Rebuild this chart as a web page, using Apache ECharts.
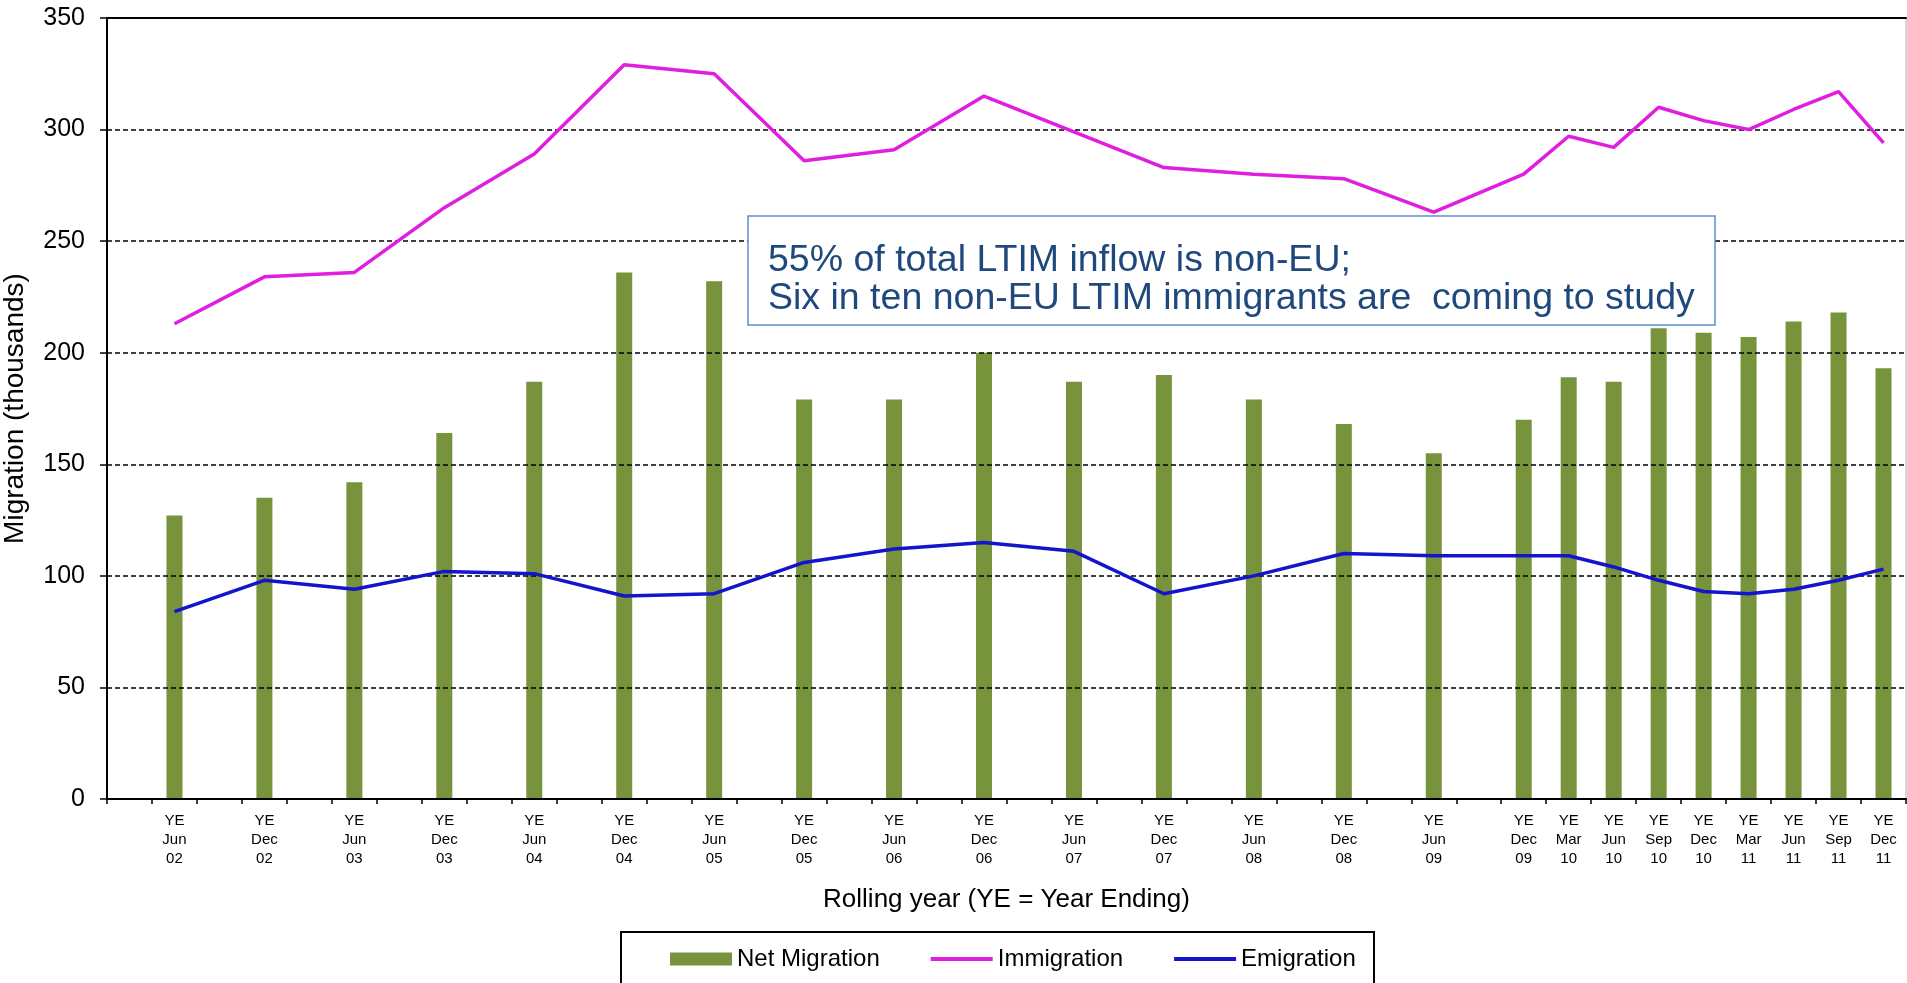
<!DOCTYPE html>
<html>
<head>
<meta charset="utf-8">
<script src="https://cdn.jsdelivr.net/npm/echarts@6/dist/echarts.min.js"></script>
<style>
html,body{margin:0;padding:0;background:#fff;}
#chart{width:1907px;height:983px;}
</style>
</head>
<body>
<div id="chart"></div>
<script>
// Quarterly axis slots (Mar 02 .. Dec 11)
var quarters = ['Mar 02','Jun 02','Sep 02','Dec 02','Mar 03','Jun 03','Sep 03','Dec 03',
  'Mar 04','Jun 04','Sep 04','Dec 04','Mar 05','Jun 05','Sep 05','Dec 05',
  'Mar 06','Jun 06','Sep 06','Dec 06','Mar 07','Jun 07','Sep 07','Dec 07',
  'Mar 08','Jun 08','Sep 08','Dec 08','Mar 09','Jun 09','Sep 09','Dec 09',
  'Mar 10','Jun 10','Sep 10','Dec 10','Mar 11','Jun 11','Sep 11','Dec 11'];
// Periods with data (rolling year ending)
var periods = ['Jun 02','Dec 02','Jun 03','Dec 03','Jun 04','Dec 04','Jun 05','Dec 05',
  'Jun 06','Dec 06','Jun 07','Dec 07','Jun 08','Dec 08','Jun 09','Dec 09',
  'Mar 10','Jun 10','Sep 10','Dec 10','Mar 11','Jun 11','Sep 11','Dec 11'];
var netMigration = [127,135,142,164,187,236,232,179,179,200,187,190,179,168,155,170,189,187,211,209,207,214,218,193];
var immigration  = [213,234,236,265,289,329,325,286,291,315,299,283,280,278,263,280,297,292,310,304,300,309,317,294];
var emigration   = [84,98,94,102,101,91,92,106,112,115,111,92,100,110,109,109,109,104,98,93,92,94,98,103];
var yTicks = [0,50,100,150,200,250,300,350];

function toSlots(values){
  return quarters.map(function(q){
    var i = periods.indexOf(q);
    return i >= 0 ? values[i] : null;
  });
}

var FONT = 'Liberation Sans, Arial, sans-serif';
var LINE_ICON = 'path://M0,0L62,0L62,4L0,4Z';
var chart = echarts.init(document.getElementById('chart'), null, {renderer:'canvas'});
chart.setOption({
  animation:false,
  backgroundColor:'#ffffff',
  grid:{left:107, right:1, top:18, bottom:184, containLabel:false, outerBoundsMode:'none',
    show:true, borderColor:'#b0b0b0', borderWidth:1, backgroundColor:'transparent'},
  xAxis:[{
    type:'category', data:quarters, position:'bottom', z:4,
    name:'Rolling year (YE = Year Ending)', nameLocation:'middle', nameGap:88,
    nameTextStyle:{fontFamily:FONT, fontSize:26, color:'#000'},
    axisLine:{lineStyle:{color:'#000', width:2}},
    axisTick:{show:true, interval:0, length:5, lineStyle:{color:'#000', width:1.5}},
    axisLabel:{interval:0, margin:12, fontFamily:FONT, fontSize:15, lineHeight:19, color:'#000',
      formatter:function(v){ return periods.indexOf(v) >= 0 ? 'YE\n' + v.replace(' ', '\n') : ''; }},
    splitLine:{show:false}
  },{
    type:'category', data:quarters, position:'top', z:4,
    axisLine:{show:true, onZero:false, lineStyle:{color:'#000', width:2}},
    axisTick:{show:false}, axisLabel:{show:false}, splitLine:{show:false}
  }],
  yAxis:{
    type:'value', min:yTicks[0], max:yTicks[yTicks.length-1], interval:50, z:3,
    name:'Migration (thousands)', nameLocation:'middle', nameGap:78,
    nameTextStyle:{fontFamily:FONT, fontSize:28, color:'#000'},
    axisLine:{show:true, lineStyle:{color:'#000', width:2}},
    axisTick:{show:true, length:7, lineStyle:{color:'#000', width:1.5}},
    axisLabel:{fontFamily:FONT, fontSize:25, color:'#000', margin:22},
    splitLine:{show:true, lineStyle:{color:'#000', type:[5,3], width:1.6}}
  },
  legend:{
    left:670, top:947, padding:0, itemGap:51, itemWidth:62, itemHeight:13,
    textStyle:{fontFamily:FONT, fontSize:24, color:'#000'},
    data:[
      {name:'Net Migration', icon:'rect'},
      {name:'Immigration', icon:LINE_ICON},
      {name:'Emigration', icon:LINE_ICON}
    ]
  },
  series:[{
    name:'Net Migration', type:'bar', data:toSlots(netMigration), barWidth:16, z:2,
    itemStyle:{color:'#77933C'}
  },{
    name:'Immigration', type:'line', data:toSlots(immigration), connectNulls:true,
    symbol:'none', z:5, lineStyle:{color:'#E01EE0', width:3.5}, itemStyle:{color:'#E01EE0'}
  },{
    name:'Emigration', type:'line', data:toSlots(emigration), connectNulls:true,
    symbol:'none', z:5, lineStyle:{color:'#1414CC', width:3.5}, itemStyle:{color:'#1414CC'}
  }],
  graphic:[{
    type:'rect', z:100, shape:{x:621, y:932, width:753, height:70},
    style:{fill:'none', stroke:'#000', lineWidth:2}
  },{
    type:'rect', z:100, shape:{x:748, y:216, width:967, height:109},
    style:{fill:'#fff', stroke:'#5B8FCF', lineWidth:1.5}
  },{
    type:'text', z:101, left:768, top:242,
    style:{text:'55% of total LTIM inflow is non-EU;\nSix in ten non-EU LTIM immigrants are  coming to study',
      font:'37.5px ' + FONT, lineHeight:38, fill:'#1F497D'}
  }]
});
</script>
</body>
</html>
